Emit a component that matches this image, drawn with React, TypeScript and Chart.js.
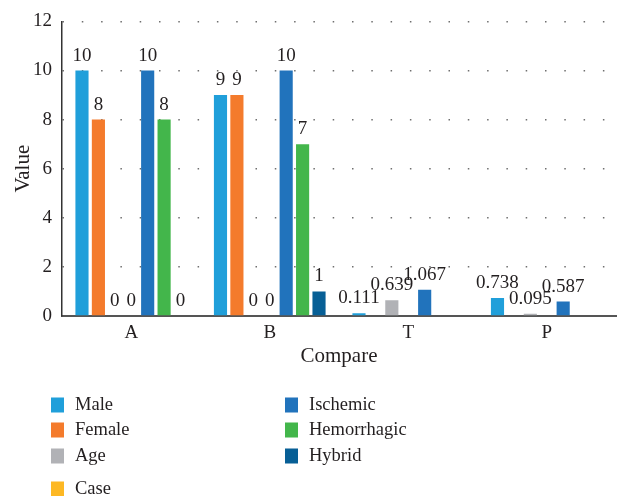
import React, { useEffect, useRef } from "react";
import { Chart, registerables } from "chart.js";

Chart.register(...registerables);

const categories = ["A", "B", "T", "P"];
const seriesNames = ["Male", "Female", "Age", "Case", "Ischemic", "Hemorrhagic", "Hybrid"];
const seriesColors = ["#209fda", "#f47b2c", "#b1b2b6", "#fdb824", "#2173bc", "#43b64b", "#075f96"];
const male = [10, 9, 0.111, 0.738];
const female = [8, 9, null, null];
const age = [0, 0, 0.639, 0.095];
const caseVals = [0, 0, null, null];
const ischemic = [10, 10, 1.067, 0.587];
const hemorrhagic = [8, 7, null, null];
const hybrid = [0, 1, null, null];
const seriesValues = [male, female, age, caseVals, ischemic, hemorrhagic, hybrid];
const yTicks = [0, 2, 4, 6, 8, 10, 12];

const FONT = "'Liberation Serif', 'DejaVu Serif', serif";
const TEXT = "#231f20";

const valueLabels = {
  id: "valueLabels",
  afterDatasetsDraw(chart: any) {
    const ctx = chart.ctx;
    ctx.save();
    ctx.font = `19px ${FONT}`;
    ctx.fillStyle = TEXT;
    ctx.textAlign = "center";
    ctx.textBaseline = "alphabetic";
    chart.data.datasets.forEach((ds: any, i: number) => {
      const meta = chart.getDatasetMeta(i);
      meta.data.forEach((el: any, j: number) => {
        const v = ds.data[j];
        if (v === null || v === undefined) return;
        ctx.fillText(String(v), el.x, el.y - 10);
      });
    });
    ctx.restore();
  },
};

const twoColLegend = {
  id: "twoColLegend",
  afterDraw(chart: any) {
    const ctx = chart.ctx;
    ctx.save();
    ctx.font = `18.5px ${FONT}`;
    ctx.textBaseline = "middle";
    ctx.textAlign = "left";
    const rowsY = [405, 430, 456, 489];
    chart.data.datasets.forEach((ds: any, i: number) => {
      const col = i < 4 ? 0 : 1;
      const row = i < 4 ? i : i - 4;
      const bx = col === 0 ? 51 : 285;
      const cy = rowsY[row];
      ctx.fillStyle = ds.backgroundColor;
      ctx.fillRect(bx, cy - 7.5, 13, 15);
      ctx.fillStyle = TEXT;
      ctx.fillText(ds.label, bx + 24, cy);
    });
    ctx.restore();
  },
};

export default function App() {
  const ref = useRef<HTMLCanvasElement | null>(null);
  useEffect(() => {
    document.body.style.margin = "0";
    const chart = new Chart(ref.current as HTMLCanvasElement, {
      type: "bar",
      data: {
        labels: categories,
        datasets: seriesNames.map((name, i) => ({
          label: name,
          data: seriesValues[i],
          backgroundColor: seriesColors[i],
          borderWidth: 0,
          categoryPercentage: 0.83,
          barPercentage: 0.8,
          skipNull: false,
        })),
      },
      options: {
        responsive: false,
        animation: false,
        layout: { padding: { left: 0, right: 6, top: 19, bottom: 127 } },
        plugins: {
          legend: { display: false },
          tooltip: { enabled: false },
        },
        scales: {
          x: {
            grid: { display: false, drawTicks: false },
            border: { display: true, color: "#555", width: 2 },
            ticks: { color: TEXT, font: { family: FONT, size: 19 }, padding: 6 },
            title: { display: true, text: "Compare", color: TEXT, font: { family: FONT, size: 21 }, padding: 0 },
            afterFit: (s: any) => { s.height = 53; },
          },
          y: {
            min: 0,
            max: 12,
            afterBuildTicks: (s: any) => { s.ticks = yTicks.map((v) => ({ value: v })); },
            grid: { color: "#6f6f6f", lineWidth: 1.5, drawTicks: false },
            border: { display: true, color: "#333", width: 1.5, dash: [1.5, 17.8] },
            ticks: { color: TEXT, font: { family: FONT, size: 19 }, padding: 10 },
            title: { display: true, text: "Value", color: TEXT, font: { family: FONT, size: 21 }, padding: { top: 11, bottom: 0 } },
            afterFit: (s: any) => { s.width = 62; },
          },
        },
      },
      plugins: [valueLabels, twoColLegend],
    });
    return () => chart.destroy();
  }, []);
  return (
    <div style={{ position: "fixed", left: 0, top: 0, width: 622, height: 496, background: "#fff" }}>
      <canvas ref={ref} width={622} height={496} style={{ width: 622, height: 496, display: "block" }} />
    </div>
  );
}
